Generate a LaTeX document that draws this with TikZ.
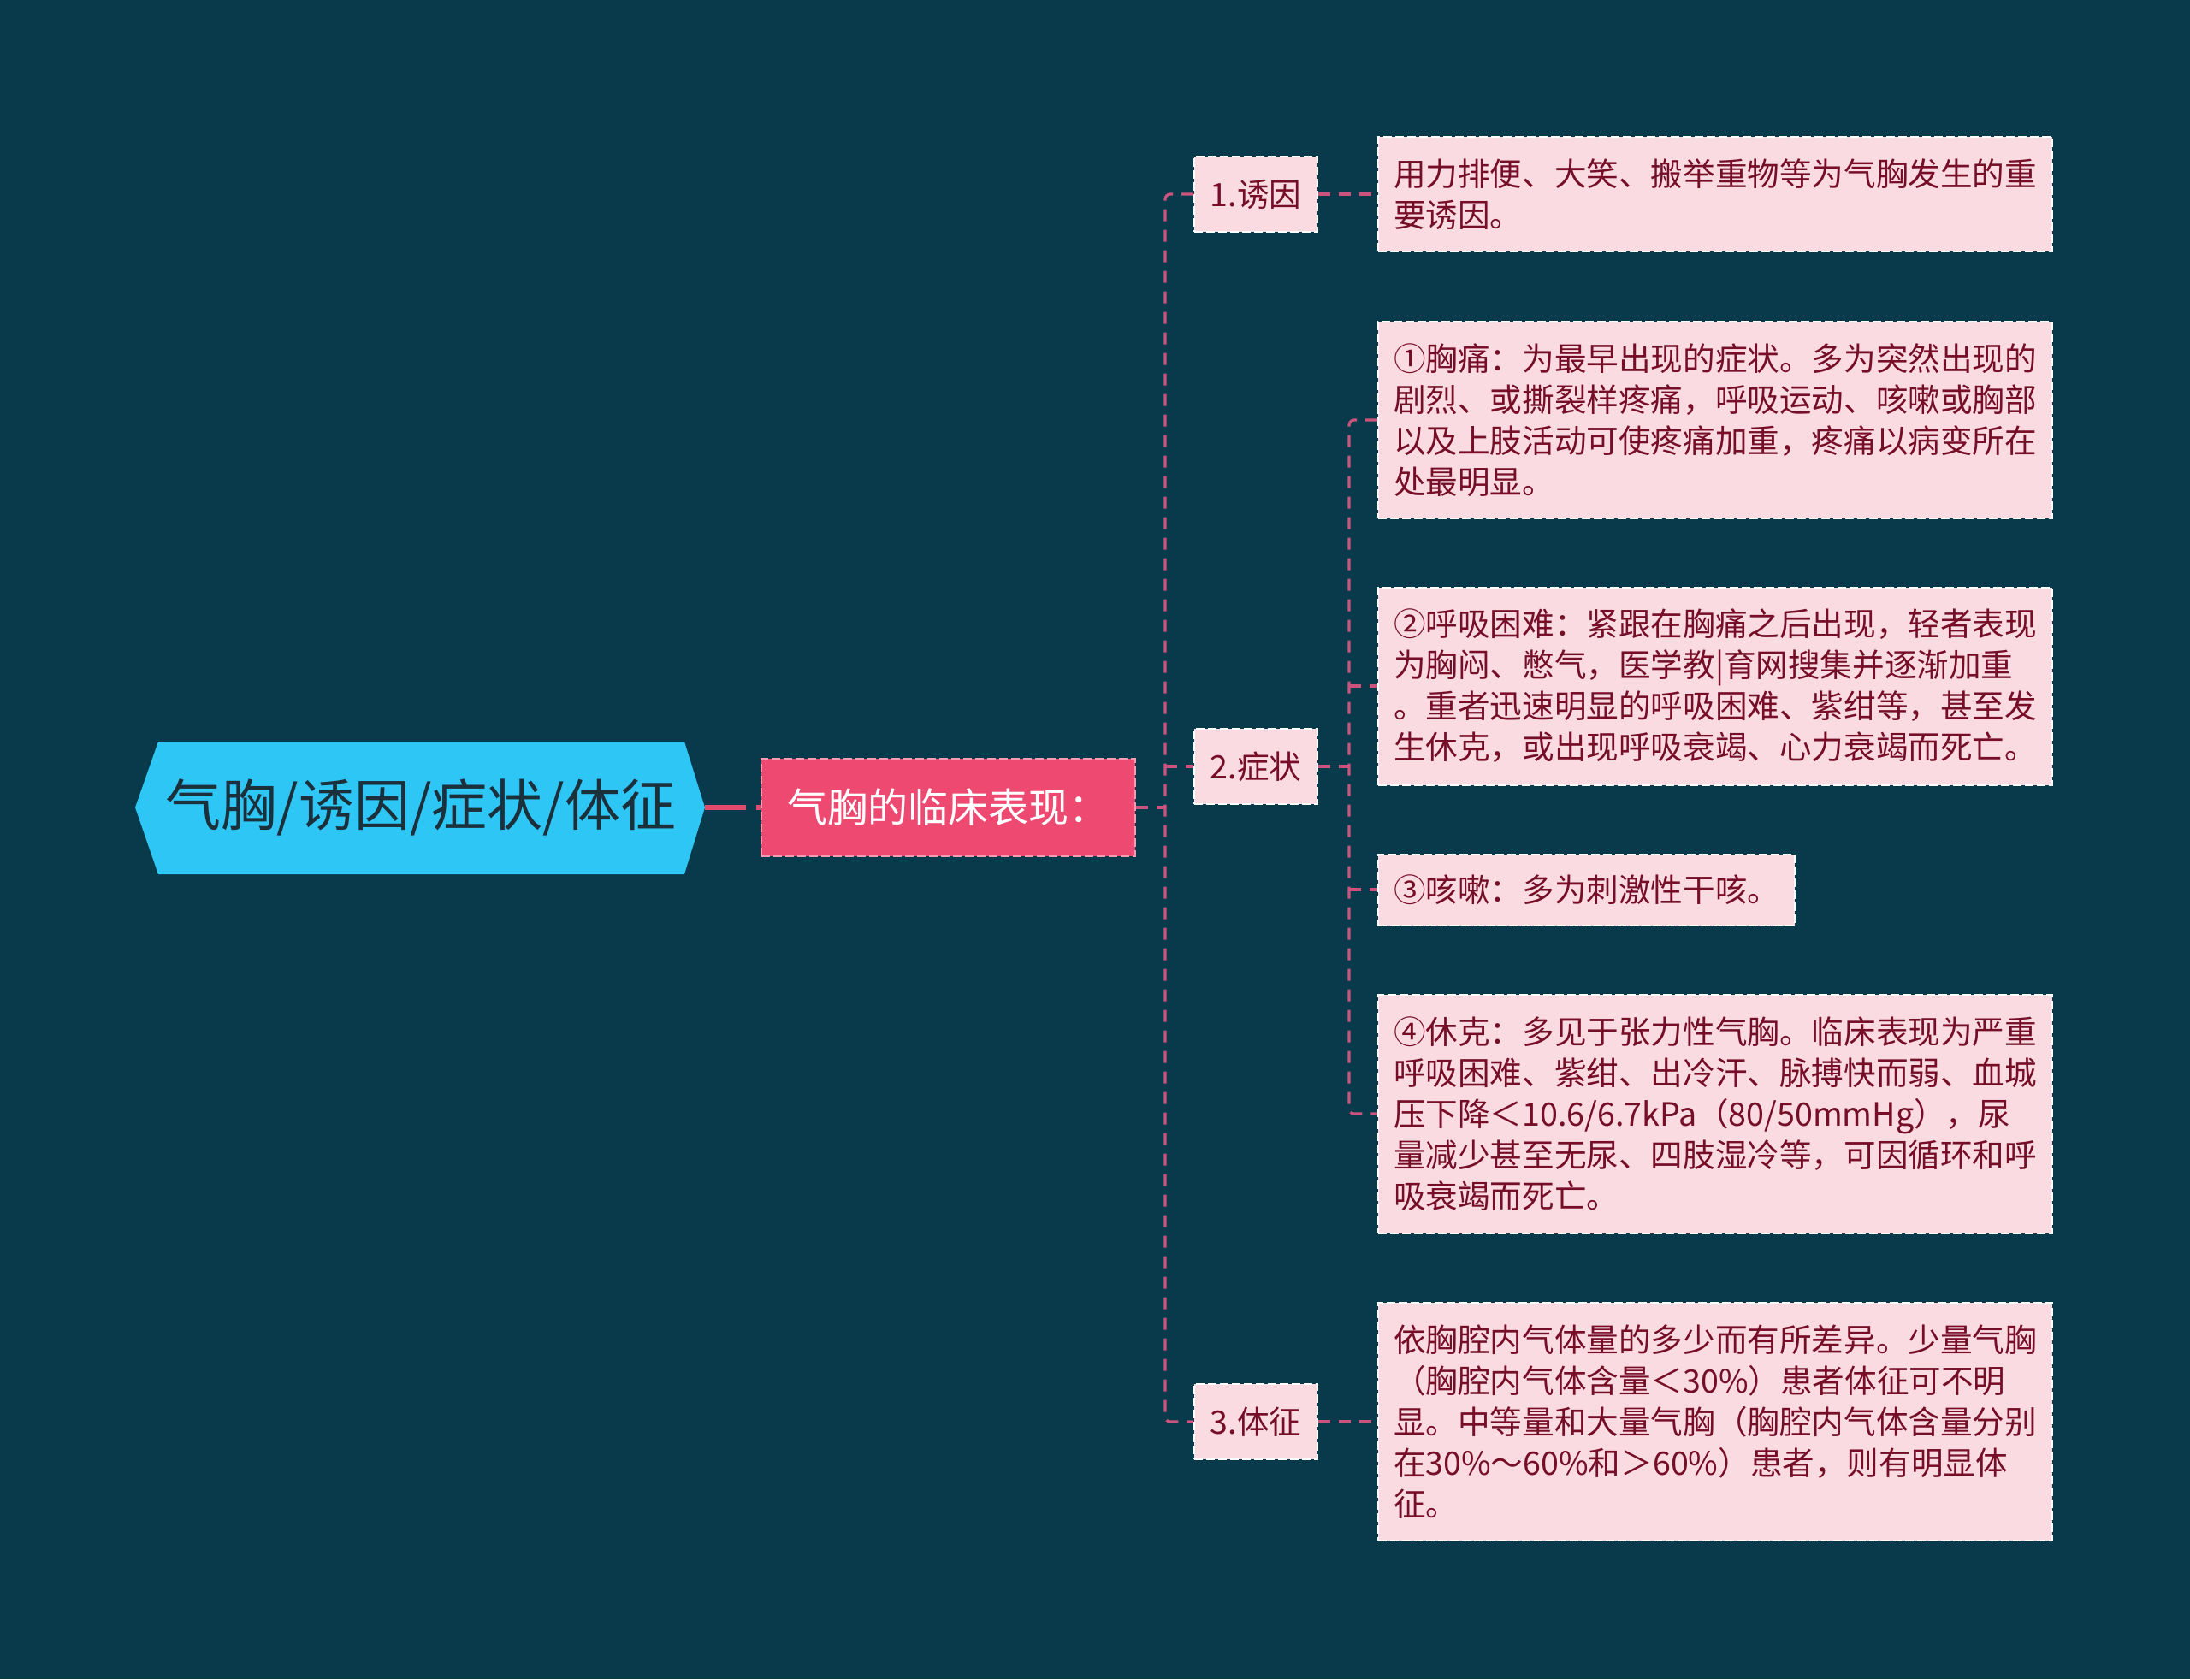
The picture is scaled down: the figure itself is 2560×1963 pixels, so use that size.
\documentclass[tikz,border=0pt]{standalone}
\usepackage{fontspec}
\setmainfont{Noto Sans CJK SC}
\definecolor{bgc}{RGB}{8,58,76}
\definecolor{rootc}{RGB}{46,198,244}
\definecolor{roottext}{RGB}{28,48,60}
\definecolor{mainc}{RGB}{238,73,113}
\definecolor{lightc}{RGB}{250,219,226}
\definecolor{darkred}{RGB}{118,14,40}
\definecolor{connc}{RGB}{204,84,124}
\definecolor{rootline}{RGB}{226,74,112}
\begin{document}
\begin{tikzpicture}[x=1pt,y=-1pt,
  conn/.style={draw=connc, line width=3.2pt, dash pattern=on 14pt off 10pt},
  lightbox/.style={fill=lightc, draw=white, line width=2pt, dash pattern=on 10pt off 4pt, text=darkred, font=\fontsize{37.6}{48}\selectfont},
  lvlone/.style={lightbox, minimum width=144pt, minimum height=88pt, inner sep=0pt},
  leafbase/.style={lightbox, anchor=west, inner xsep=18pt, inner ysep=0pt, align=left},
  leafwide/.style={leafbase, text width=752pt},
  mainbox/.style={fill=mainc, draw=white!45!mainc, line width=2pt, dash pattern=on 10pt off 4pt, text=white, font=\fontsize{47}{56}\selectfont, minimum width=437pt, minimum height=114pt, inner sep=0pt},
]
\useasboundingbox (0,0) rectangle (2560,1963);
\fill[bgc] (0,0) rectangle (2560,1963);

% root hexagon
\fill[rootc] (158,944) -- (185,867) -- (800,867) -- (824,944) -- (800,1022) -- (185,1022) -- cycle;
\node[text=roottext, font=\fontsize{65}{78}\selectfont, inner sep=0pt] (root) at (492,944) {气胸/诱因/症状/体征};
\coordinate (roottip) at (824,944);

% main
\node[mainbox] (main) at (1108.5,944) {气胸的临床表现：};

% level one
\node[lvlone] (t1) at (1468,227) {1.诱因};
\node[lvlone] (t2) at (1468,896) {2.症状};
\node[lvlone] (t3) at (1468,1662) {3.体征};

% leaves
\node[leafwide, minimum height=134pt] (a) at (1610,227) {用力排便、大笑、搬举重物等为气胸发生的重\\要诱因。};
\node[leafwide, minimum height=230pt] (c1) at (1610,491) {①胸痛：为最早出现的症状。多为突然出现的\\剧烈、或撕裂样疼痛，呼吸运动、咳嗽或胸部\\以及上肢活动可使疼痛加重，疼痛以病变所在\\处最明显。};
\node[leafwide, minimum height=231pt] (c2) at (1610,802) {②呼吸困难：紧跟在胸痛之后出现，轻者表现\\为胸闷、憋气，医学教|育网搜集并逐渐加重\\。重者迅速明显的呼吸困难、紫绀等，甚至发\\生休克，或出现呼吸衰竭、心力衰竭而死亡。};
\node[leafbase, minimum height=83pt] (c3) at (1610,1040) {③咳嗽：多为刺激性干咳。};
\node[leafwide, minimum height=279pt] (c4) at (1610,1302) {④休克：多见于张力性气胸。临床表现为严重\\呼吸困难、紫绀、出冷汗、脉搏快而弱、血城\\压下降＜10.6/6.7kPa（80/50mmHg），尿\\量减少甚至无尿、四肢湿冷等，可因循环和呼\\吸衰竭而死亡。};
\node[leafwide, minimum height=278pt] (f) at (1610,1662) {依胸腔内气体量的多少而有所差异。少量气胸\\（胸腔内气体含量＜30\%）患者体征可不明\\显。中等量和大量气胸（胸腔内气体含量分别\\在30\%～60\%和＞60\%）患者，则有明显体\\征。};

% connectors
\coordinate (trunk) at (1362,944);
\coordinate (trunk2) at (1577,896);
\draw[rootline, line width=6pt, dash pattern=on 48pt off 12pt] (roottip) -- (main.west);
\draw[conn] (main.east) -- (trunk);
\draw[conn, rounded corners=6pt] (t1.west) -| (trunk) |- (t3.west);
\draw[conn] (trunk |- t2.west) -- (t2.west);
\draw[conn] (t1.east) -- (a.west);
\draw[conn] (t3.east) -- (f.west);
\draw[conn] (t2.east) -- (trunk2);
\draw[conn, rounded corners=6pt] (c1.west) -| (trunk2) |- (c4.west);
\draw[conn] (trunk2 |- c2.west) -- (c2.west);
\draw[conn] (trunk2 |- c3.west) -- (c3.west);
\end{tikzpicture}
\end{document}
